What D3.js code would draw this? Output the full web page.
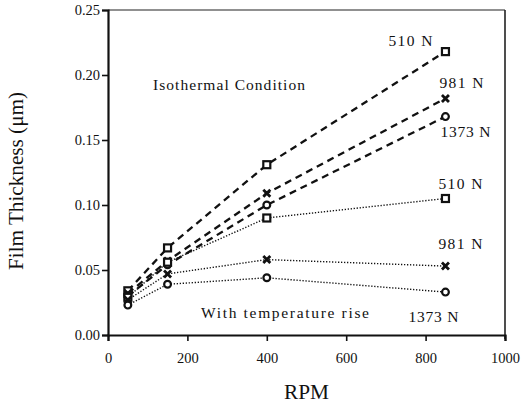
<!DOCTYPE html>
<html>
<head>
<meta charset="utf-8">
<script src="https://cdn.jsdelivr.net/npm/d3@7"></script>
<style>
  html, body { margin: 0; padding: 0; background: #fff; }
  svg { display: block; }
  text { font-family: "Liberation Serif", "DejaVu Serif", serif; fill: #111; }
</style>
</head>
<body>
<script>
// Film thickness vs. shaft speed, for three loads, isothermal and with temperature rise
const rpm = [50, 150, 400, 850];
const loads = ["510 N", "981 N", "1373 N"];
const markers = ["square", "cross", "circle"];

const isothermal510 = [0.034, 0.067, 0.131, 0.218];
const isothermal981 = [0.032, 0.057, 0.109, 0.182];
const isothermal1373 = [0.030, 0.054, 0.100, 0.168];

const tempRise510 = [0.029, 0.056, 0.090, 0.105];
const tempRise981 = [0.027, 0.047, 0.058, 0.053];
const tempRise1373 = [0.023, 0.039, 0.044, 0.033];

const xTicks = [0, 200, 400, 600, 800, 1000];
const yTicks = [0, 0.05, 0.10, 0.15, 0.20, 0.25];

const W = 523, H = 406;
const m = { left: 108, right: 18, top: 10, bottom: 71 };
const iw = W - m.left - m.right, ih = H - m.top - m.bottom;

const svg = d3.select("body").append("svg").attr("width", W).attr("height", H);
const g = svg.append("g").attr("transform", `translate(${m.left},${m.top})`);

const x = d3.scaleLinear().domain([0, 1000]).range([0, iw]);
const y = d3.scaleLinear().domain([0, 0.25]).range([ih, 0]);

// frame: top and right edges
g.append("line").attr("x1", 0).attr("x2", iw).attr("y1", 0).attr("y2", 0)
  .attr("stroke", "#222").attr("stroke-width", 1.2);
g.append("line").attr("x1", iw).attr("x2", iw).attr("y1", 0).attr("y2", ih + 4)
  .attr("stroke", "#222").attr("stroke-width", 1.6);

// axes
const xAxis = g.append("g").attr("transform", `translate(0,${ih})`)
  .call(d3.axisBottom(x).tickValues(xTicks).tickFormat(d3.format("d")).tickSize(6).tickPadding(12));
const yAxis = g.append("g")
  .call(d3.axisLeft(y).tickValues(yTicks).tickFormat(d3.format(".2f")).tickSize(6).tickPadding(2));
[xAxis, yAxis].forEach(a => {
  a.select(".domain").attr("stroke", "#111").attr("stroke-width", 2.2);
  a.selectAll(".tick line").attr("stroke", "#111").attr("stroke-width", 1.6);
  a.selectAll(".tick text").style("font-family", "Liberation Serif, serif")
    .style("font-size", "14.5px").attr("fill", "#111");
});

// axis titles
svg.append("text").attr("x", m.left + x(500)).attr("y", 399)
  .attr("text-anchor", "middle").style("font-size", "20px")
  .attr("textLength", 45).attr("lengthAdjust", "spacingAndGlyphs").text("RPM");
svg.append("text").attr("transform", "translate(23,181) rotate(-90)")
  .attr("text-anchor", "middle").style("font-size", "20px")
  .attr("textLength", 178).attr("lengthAdjust", "spacingAndGlyphs").text("Film Thickness (\u03bcm)");

const line = d3.line().x((d, i) => x(rpm[i])).y(d => y(d));

function drawMarker(sel, type, cx, cy) {
  if (type === "square") {
    sel.append("rect").attr("x", cx - 3.5).attr("y", cy - 3.5).attr("width", 7).attr("height", 7)
      .attr("fill", "#fff").attr("stroke", "#111").attr("stroke-width", 2.2);
  } else if (type === "cross") {
    sel.append("path").attr("d", `M${cx - 3.5},${cy - 3.5}L${cx + 3.5},${cy + 3.5}M${cx - 3.5},${cy + 3.5}L${cx + 3.5},${cy - 3.5}`)
      .attr("stroke", "#111").attr("stroke-width", 2.8);
  } else {
    sel.append("circle").attr("cx", cx).attr("cy", cy).attr("r", 3.4)
      .attr("fill", "#fff").attr("stroke", "#111").attr("stroke-width", 2.2);
  }
}

const groups = [
  { series: [isothermal510, isothermal981, isothermal1373], dash: "7,5", width: 2.3 },
  { series: [tempRise510, tempRise981, tempRise1373], dash: "1.3,1.7", width: 1.4 }
];

groups.forEach(grp => {
  grp.series.forEach(vals => {
    g.append("path").datum(vals).attr("d", line)
      .attr("fill", "none").attr("stroke", "#111")
      .attr("stroke-width", grp.width).attr("stroke-dasharray", grp.dash);
  });
});
groups.forEach(grp => {
  grp.series.forEach((vals, k) => {
    const mg = g.append("g");
    vals.forEach((v, i) => drawMarker(mg, markers[k], x(rpm[i]), y(v)));
  });
});

// series labels at the right-hand end of each curve
const last = rpm.length - 1;
const labelFont = "15.5px";
const isoEnds = [isothermal510[last], isothermal981[last], isothermal1373[last]];
const tempEnds = [tempRise510[last], tempRise981[last], tempRise1373[last]];
const isoOffsets = [[-35, -6], [16, -10], [20, 20]];
const tempOffsets = [[15, -10], [15, -17], [-12, 30]];
function addLabel(v, k, off) {
  g.append("text").attr("x", x(rpm[last]) + off[0]).attr("y", y(v) + off[1])
    .attr("text-anchor", "middle").style("font-size", labelFont)
    .attr("textLength", k === 2 ? 50 : 44).attr("lengthAdjust", "spacing").text(loads[k]);
}
isoEnds.forEach((v, k) => addLabel(v, k, isoOffsets[k]));
tempEnds.forEach((v, k) => addLabel(v, k, tempOffsets[k]));

// condition captions
svg.append("text").attr("x", 229).attr("y", 90).attr("text-anchor", "middle")
  .style("font-size", "15.5px").attr("textLength", 152).attr("lengthAdjust", "spacing")
  .text("Isothermal Condition");
svg.append("text").attr("x", 285).attr("y", 318).attr("text-anchor", "middle")
  .style("font-size", "15.5px").attr("textLength", 168).attr("lengthAdjust", "spacing")
  .text("With temperature rise");
</script>
</body>
</html>
